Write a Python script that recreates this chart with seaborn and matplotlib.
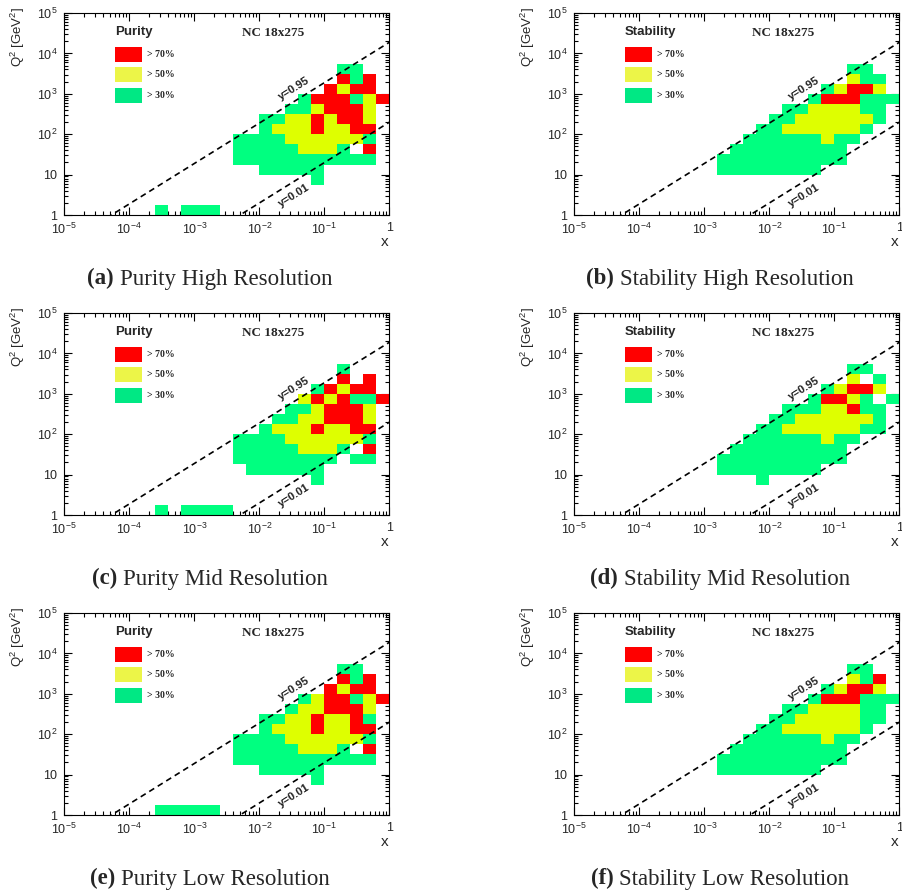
import numpy as np
import pandas as pd
import matplotlib
matplotlib.use("Agg")
import matplotlib.pyplot as plt
import seaborn as sns
from matplotlib.colors import ListedColormap
from matplotlib.patches import Rectangle
from matplotlib.ticker import LogLocator, NullFormatter, FixedLocator

# ------------------------------------------------------------------ data
# bin edges in log10 units (5 bins / decade in x, 4 bins / decade in Q2)
X_EDGES_LOG = tuple(np.round(np.arange(-5.0, 0.001, 0.2), 2))
Q2_EDGES_LOG = tuple(np.round(np.arange(0.0, 5.001, 0.25), 2))
GRID_X0_LOG = -3.6      # log10 x of the first grid column's lower edge
GRID_TOP_ROW = 14       # Q2 bin index of the first grid row

# grid rows (top -> bottom): '.' empty, '1' >30%, '2' >50%, '3' >70%
PURITY_HIGH = [
    "..............11..",
    "..............313.",
    ".............3233.",
    "...........1333123",
    "..........1123332.",
    "........112232332.",
    "........122232233.",
    "......11112222221.",
    "......111112221.3.",
    "......11111111111.",
    "........11111.....",
    "............1.....",
    "..................",
    "..................",
    "1.111.............",
]
STABILITY_HIGH = [
    "..............11..",
    "..............211.",
    "............12332.",
    "...........1333111",
    ".........11222211.",
    "........112222221.",
    ".......112222221..",
    "......111111211...",
    ".....111111111....",
    "....1111111111....",
    "....11111111......",
    "..................",
    "..................",
    "..................",
    "..................",
]
PURITY_MID = [
    "..............1...",
    "..............3.3.",
    "............13233.",
    "...........2323113",
    "..........1123332.",
    ".........11223332.",
    "........122232233.",
    "......11112222221.",
    "......111112221.3.",
    "......11111111.11.",
    ".......111111.....",
    "............1.....",
    "..................",
    "..................",
    "1.1111............",
]
STABILITY_MID = [
    "..............11..",
    "..............2.1.",
    "............12332.",
    "...........13321.1",
    ".........11122311.",
    "........112222221.",
    ".......1122222211.",
    "......111111211...",
    ".....111111111....",
    "....1111111111....",
    "....11111111......",
    ".......1..........",
    "..................",
    "..................",
    "..................",
]
PURITY_LOW = [
    "..............11..",
    "..............313.",
    ".............3233.",
    "...........1233123",
    "..........1223332.",
    "........112232231.",
    "........122232233.",
    "......11112222221.",
    "......111112221.3.",
    "......11111111111.",
    "........11111.....",
    "............1.....",
    "..................",
    "..................",
    "11111.............",
]
STABILITY_LOW = [
    "..............11..",
    "..............213.",
    "............12332.",
    "...........1333111",
    ".........11222211.",
    "........112222211.",
    ".......112222221..",
    "......111111211...",
    ".....111111111....",
    "....1111111111....",
    "....11111111......",
    "..................",
    "..................",
    "..................",
    "..................",
]

TAGS = ["(a)", "(b)", "(c)", "(d)", "(e)", "(f)"]
CAPTIONS = ["Purity High Resolution", "Stability High Resolution",
            "Purity Mid Resolution", "Stability Mid Resolution",
            "Purity Low Resolution", "Stability Low Resolution"]
LEGEND_TITLES = ["Purity", "Stability"] * 3
GRIDS = [PURITY_HIGH, STABILITY_HIGH, PURITY_MID, STABILITY_MID,
         PURITY_LOW, STABILITY_LOW]
LEVEL_LABELS = ["> 70%", "> 50%", "> 30%"]
BEAM_LABEL = "NC 18x275"
Y_VALUES = [0.95, 0.01]
Y_LABELS = ["y=0.95", "y=0.01"]
S_GEV2 = 4 * 18 * 275          # e-p centre-of-mass energy squared
X_TICKS = [1e-5, 1e-4, 1e-3, 1e-2, 1e-1, 1]
X_TICK_LABELS = ["10$^{-5}$", "10$^{-4}$", "10$^{-3}$", "10$^{-2}$", "10$^{-1}$", "1"]
Y_TICKS = [1, 10, 1e2, 1e3, 1e4, 1e5]
Y_TICK_LABELS = ["1", "10", "10$^{2}$", "10$^{3}$", "10$^{4}$", "10$^{5}$"]

# ------------------------------------------------------------------ style
CELL_COLORS = ["#00ff80", "#deff00", "#ff0000"]     # >30, >50, >70
LEGEND_COLORS = ["#ff0000", "#ecf548", "#00e884"]   # >70, >50, >30

sns.set_style("ticks")
plt.rcParams["font.family"] = ["Liberation Sans", "DejaVu Sans"]
plt.rcParams["mathtext.fontset"] = "custom"
plt.rcParams["mathtext.rm"] = "Liberation Sans"
plt.rcParams["mathtext.it"] = "Liberation Sans:italic"
plt.rcParams["mathtext.bf"] = "Liberation Sans:bold"
plt.rcParams["axes.linewidth"] = 0.8
plt.rcParams["axes.edgecolor"] = "black"

W, H = 902, 892
fig = plt.figure(figsize=(W / 100, H / 100), dpi=100)

AX_W, AX_H = 325, 202
COL_LEFT = [64.3, 574.3]
ROW_TOP = [13, 313, 613]
CAP_CENTER = [210, 720]
CAP_BASE = [284.5, 584.5, 884.5]

cmap = ListedColormap(CELL_COLORS)
angle = np.degrees(np.arctan2(AX_H, AX_W))
LINE_LABEL_POS = [(10 ** -1.47, 10 ** 3.14), (10 ** -1.47, 10 ** 0.49)]


def grid_to_frame(rows):
    recs = []
    for i, row in enumerate(rows):
        q = GRID_TOP_ROW - i
        for j, ch in enumerate(row):
            if ch != ".":
                lx = GRID_X0_LOG + 0.2 * j + 0.1
                lq = 0.25 * q + 0.125
                recs.append((10 ** lx, 10 ** lq, int(ch)))
    return pd.DataFrame(recs, columns=["x", "Q2", "level"])


renderer = fig.canvas.get_renderer()

for k in range(6):
    r, c = divmod(k, 2)
    left = COL_LEFT[c] / W
    bottom = 1 - (ROW_TOP[r] + AX_H) / H
    ax = fig.add_axes([left, bottom, AX_W / W, AX_H / H])
    df = grid_to_frame(GRIDS[k])
    sns.histplot(data=df, x="x", y="Q2", weights="level",
                 bins=(X_EDGES_LOG, Q2_EDGES_LOG), log_scale=(True, True),
                 ax=ax, cbar=False)
    mesh = ax.collections[-1]
    mesh.set_cmap(cmap)
    mesh.set_clim(0.5, 3.5)
    mesh.set_antialiased(False)

    # kinematic limit lines Q2 = x y s
    xl = np.logspace(-5, 0, 200)
    for yv, lab, pos in zip(Y_VALUES, Y_LABELS, LINE_LABEL_POS):
        ax.plot(xl, yv * S_GEV2 * xl, color="black", lw=1.2,
                linestyle=(0, (3.5, 2.5)))
        ax.text(pos[0], pos[1], lab, rotation=angle,
                rotation_mode="anchor", ha="center", va="center",
                fontsize=8, fontweight="bold", color="#222222")

    ax.set_xlim(1e-5, 1)
    ax.set_ylim(1, 1e5)
    ax.set_xlabel("")
    ax.set_ylabel("")
    ax.xaxis.set_major_locator(FixedLocator(X_TICKS))
    ax.set_xticklabels(X_TICK_LABELS)
    ax.yaxis.set_major_locator(FixedLocator(Y_TICKS))
    ax.set_yticklabels(Y_TICK_LABELS)
    for axis in (ax.xaxis, ax.yaxis):
        axis.set_minor_locator(LogLocator(base=10, subs=np.arange(2, 10), numticks=30))
        axis.set_minor_formatter(NullFormatter())
    ax.tick_params(which="both", direction="in", top=True, right=True,
                   color="black", width=0.8)
    ax.tick_params(which="major", length=5.5, labelsize=9)
    ax.tick_params(which="minor", length=3)
    ax.tick_params(axis="x", which="major", pad=5)
    ax.tick_params(axis="y", which="major", pad=5)
    for sp in ax.spines.values():
        sp.set_visible(True)
        sp.set_color("black")
        sp.set_linewidth(0.8)

    # axis titles
    ax.text(-0.142, 1.03, "Q$^{2}$ [GeV$^{2}$]", transform=ax.transAxes,
            rotation=90, ha="center", va="top", fontsize=9.5)
    ax.text(0.987, -0.134, "x", transform=ax.transAxes, ha="center",
            va="center", fontsize=11)

    # legend block
    ax.text(0.156, 0.906, LEGEND_TITLES[k], transform=ax.transAxes,
            ha="left", va="center", fontsize=9.5, fontweight="bold")
    ax.text(0.546, 0.90, BEAM_LABEL, transform=ax.transAxes, ha="left",
            va="center", fontsize=9.5, fontweight="bold",
            family=["Liberation Serif", "DejaVu Serif"])
    box_tops = [0.833, 0.734, 0.630]
    for bt, colr, lab in zip(box_tops, LEGEND_COLORS, LEVEL_LABELS):
        ax.add_patch(Rectangle((0.156, bt - 0.074), 0.082, 0.074,
                               transform=ax.transAxes, facecolor=colr,
                               edgecolor="none", clip_on=False))
        ax.text(0.2535, bt - 0.037, lab, transform=ax.transAxes,
                ha="left", va="center", fontsize=7, fontweight="bold",
                family=["Liberation Serif", "DejaVu Serif"])

    # sub-caption
    t1 = fig.text(0, 0, TAGS[k], fontsize=16.5, fontweight="bold",
                  family=["Liberation Serif", "DejaVu Serif"], va="baseline")
    t2 = fig.text(0, 0, CAPTIONS[k], fontsize=16.5,
                  family=["Liberation Serif", "DejaVu Serif"], va="baseline")
    w1 = t1.get_window_extent(renderer).width
    w2 = t2.get_window_extent(renderer).width
    gap = 6
    start = CAP_CENTER[c] - (w1 + gap + w2) / 2
    ybase = 1 - CAP_BASE[r] / H
    t1.set_position((start / W, ybase))
    t2.set_position(((start + w1 + gap) / W, ybase))

fig.savefig("out.png", dpi=100)
